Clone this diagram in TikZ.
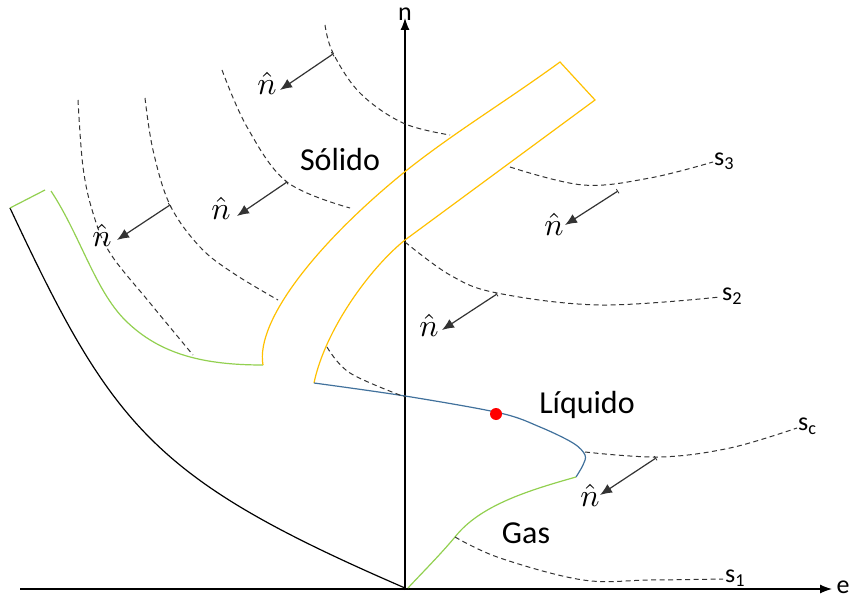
\documentclass[tikz,border=0pt]{standalone}
\usepackage{fontspec}
\setmainfont{Carlito}
\usetikzlibrary{arrows.meta}
\definecolor{ylw}{HTML}{FFC000}
\definecolor{grn}{HTML}{92D050}
\definecolor{blu}{HTML}{41719C}
\definecolor{dk}{HTML}{333333}
\newcommand{\nhatsym}{\scalebox{3.2}{$\hat{n}$}}
\tikzset{
  curve/.style={line width=1.2pt, smooth, tension=0.55},
  dsh/.style={draw=dk, line width=1pt, dash pattern=on 5pt off 3.5pt},
  normal/.style={draw=dk, line width=1.2pt, {Bar[width=5pt,line width=0.8pt]}-{Latex[length=12pt,width=10pt]}},
  axis/.style={line width=1.2pt, -{Latex[length=12pt,width=9pt]}},
  phase/.style={font=\fontsize{32}{36}\selectfont},
  lab/.style={font=\fontsize{26}{30}\selectfont},
  nhat/.style={inner sep=0pt}
}
\begin{document}
\begin{tikzpicture}[x=1pt,y=-1pt]
\useasboundingbox (0,0) rectangle (849,607);
% axes
\coordinate (o) at (405,590);
\coordinate (ntop) at (405,18);
\coordinate (eleft) at (20,589);
\coordinate (eright) at (832,589);
\draw[axis] (o) -- (ntop);
\draw[axis] (eleft) -- (eright);
\node[lab, anchor=south] (nl) at (405,24) {n};
\node[lab] (el) at (843,587) {e};
% black curve
\draw[line width=1.2pt] (10,208) .. controls (113,428) and (153,479) .. (405,588);
% green left
\draw[grn, line width=1.2pt] (10,208) -- (45,190);
\draw[grn, line width=1.2pt] (51,191) .. controls (80,235) and (95,290) .. (125,320)
  .. controls (160,355) and (205,365) .. (263,365);
% yellow band
\draw[ylw, line width=1.2pt] (263,365) .. controls (255,320) and (320,240) .. (407,170)
  .. controls (455,132) and (505,102) .. (560,62) -- (595,100) -- (405,240)
  .. controls (370,268) and (325,330) .. (314,383);
% blue
\draw[blu, curve] plot coordinates {(314,383) (405,396) (500,413) (540,427) (573,443) (585,455) (583,465) (576,477)};
% green bottom
\draw[grn, line width=1.2pt] (576,477) .. controls (530,490) and (480,505) .. (455,537)
  .. controls (440,555) and (420,575) .. (408,588);
% dashed isentropes
\draw[dsh, smooth, tension=0.6] plot coordinates {(455,537) (500,558) (583,580) (650,580) (723,579)};
\draw[dsh, smooth, tension=0.6] plot coordinates {(585,452) (660,457) (730,448) (797,428)};
\draw[dsh, smooth, tension=0.6] plot coordinates {(405,242) (450,275) (497,293) (600,305) (720,297)};
\draw[dsh, smooth, tension=0.6] plot coordinates {(510,167) (583,185) (650,178) (713,162)};
\draw[dsh, smooth, tension=0.6] plot coordinates {(327,347) (350,373) (405,397)};
\draw[dsh, smooth, tension=0.6] plot coordinates {(325,25) (333,53) (360,93) (403,123) (450,135)};
\draw[dsh, smooth, tension=0.6] plot coordinates {(222,70) (247,127) (287,182) (350,208)};
\draw[dsh, smooth, tension=0.6] plot coordinates {(145,98) (153,150) (170,205) (200,247) (233,273) (278,300)};
\draw[dsh, smooth, tension=0.6] plot coordinates {(78,100) (83,167) (93,213) (110,253) (150,303) (193,355)};
% s labels
\node[lab, anchor=west, inner sep=1pt] (s1) at (724,578) {s\textsubscript{1}};
\node[lab, anchor=west, inner sep=1pt] (sc) at (797,426) {s\textsubscript{c}};
\node[lab, anchor=west, inner sep=1pt] (s2) at (721,296) {s\textsubscript{2}};
\node[lab, anchor=west, inner sep=1pt] (s3) at (713,161) {s\textsubscript{3}};
% normals
\coordinate (a1) at (333,54); \coordinate (b1) at (280,90);
\coordinate (a2) at (287,182); \coordinate (b2) at (237,216);
\coordinate (a3) at (170,205); \coordinate (b3) at (117,240);
\coordinate (a4) at (618,191); \coordinate (b4) at (565,225);
\coordinate (a5) at (497,294); \coordinate (b5) at (442,330);
\coordinate (a6) at (656,458); \coordinate (b6) at (600,495);
\draw[normal] (a1) -- (b1);
\draw[normal] (a2) -- (b2);
\draw[normal] (a3) -- (b3);
\draw[normal] (a4) -- (b4);
\draw[normal] (a5) -- (b5);
\draw[normal] (a6) -- (b6);
\node[nhat] (n1) at (267,83) {\nhatsym};
\node[nhat] (n2) at (221,208) {\nhatsym};
\node[nhat] (n3) at (102,235) {\nhatsym};
\node[nhat] (n4) at (554,224) {\nhatsym};
\node[nhat] (n5) at (429,325) {\nhatsym};
\node[nhat] (n6) at (590,495) {\nhatsym};
% phase labels
\node[phase] (sol) at (340,160) {Sólido};
\node[phase] (liq) at (587,405) {Líquido};
\node[phase] (gas) at (526,533) {Gas};
% critical point
\fill[red] (496,414) circle (6);
\end{tikzpicture}
\end{document}
